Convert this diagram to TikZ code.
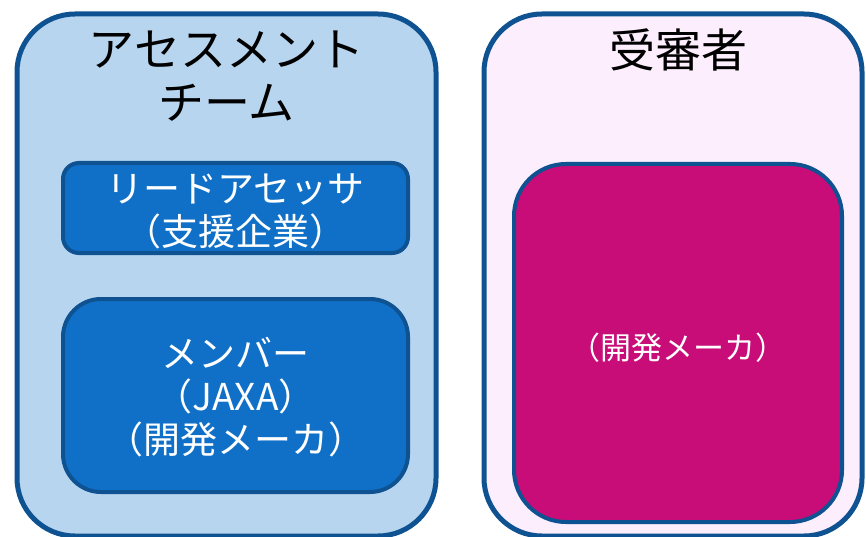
\documentclass[tikz,border=0pt]{standalone}
\usepackage{fontspec}
\setmainfont{Noto Sans CJK JP}
\definecolor{edge}{RGB}{14,82,146}
\definecolor{paleblue}{RGB}{183,213,238}
\definecolor{midblue}{RGB}{16,112,200}
\definecolor{palepink}{RGB}{252,238,252}
\definecolor{magenta2}{RGB}{200,12,120}
\tikzset{
  outerbox/.style={draw=edge, line width=5pt, rounded corners=58pt, inner sep=0pt},
  innerbox/.style={draw=edge, line width=4pt, inner sep=0pt},
  bigtxt/.style={font=\fontsize{46}{53}\selectfont, align=center, text=black},
  midtxt/.style={font=\fontsize{37}{43}\selectfont, align=center, text=white},
  smalltxt/.style={font=\fontsize{31}{36}\selectfont, align=center, text=white},
}
\begin{document}
\begin{tikzpicture}[x=1pt,y=-1pt]
\useasboundingbox (0,0) rectangle (866,537);
\begin{scope}
\clip (0,0) rectangle (866,537);
\node[outerbox, fill=paleblue, minimum width=419pt, minimum height=522pt] (team) at (226.5,275) {};
\node[outerbox, fill=palepink, minimum width=378pt, minimum height=522pt] (examinee) at (673,275) {};
\node[innerbox, fill=midblue, rounded corners=16pt, minimum width=345pt, minimum height=90pt] (lead) at (235.5,208) {};
\node[innerbox, fill=midblue, rounded corners=38pt, minimum width=345pt, minimum height=193pt] (member) at (235.5,395.5) {};
\node[innerbox, fill=magenta2, rounded corners=52pt, minimum width=328pt, minimum height=358pt] (maker) at (678,343) {};
\node[bigtxt] (teamlabel) at (226.5,76) {アセスメント\\チーム};
\node[bigtxt] (examlabel) at (678,50) {受審者};
\node[midtxt] (leadlabel) at (235.5,211) {リードアセッサ\\（支援企業）};
\node[midtxt] (memberlabel) at (235.5,397) {メンバー\\（JAXA）\\（開発メーカ）};
\node[smalltxt] (makerlabel) at (678,348) {（開発メーカ）};
\end{scope}
\end{tikzpicture}
\end{document}
